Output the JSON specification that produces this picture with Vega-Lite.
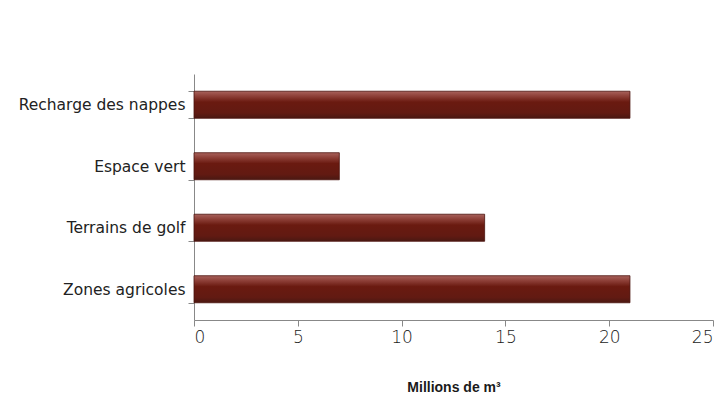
{
  "$schema": "https://vega.github.io/schema/vega-lite/v6.json",
  "autosize": {"type": "none"},
  "width": 519,
  "height": 246,
  "padding": {"left": 194, "top": 74, "right": 9, "bottom": 81},
  "background": "white",
  "config": {"view": {"stroke": null}, "font": "DejaVu Sans"},
  "data": {
    "values": [
      {"usage": "Recharge des nappes", "volume": 21},
      {"usage": "Espace vert", "volume": 7},
      {"usage": "Terrains de golf", "volume": 14},
      {"usage": "Zones agricoles", "volume": 21}
    ]
  },
  "mark": {
    "type": "bar",
    "stroke": "#4a120c",
    "strokeWidth": 0.8,
    "color": {
      "gradient": "linear",
      "x1": 0, "y1": 0, "x2": 0, "y2": 1,
      "stops": [
        {"offset": 0, "color": "#a8625c"},
        {"offset": 0.18, "color": "#8e4038"},
        {"offset": 0.4, "color": "#6a1a10"},
        {"offset": 0.8, "color": "#621a12"},
        {"offset": 1, "color": "#4a1812"}
      ]
    }
  },
  "encoding": {
    "y": {
      "field": "usage",
      "type": "nominal",
      "sort": null,
      "scale": {"paddingInner": 0.56, "paddingOuter": 0.28},
      "axis": {
        "title": null,
        "domainColor": "#888888",
        "tickColor": "#888888",
        "tickBand": "extent",
        "tickSize": 6,
        "labelFontSize": 15.5,
        "labelFontWeight": "normal",
        "labelColor": "#222222",
        "labelPadding": 3
      }
    },
    "x": {
      "field": "volume",
      "type": "quantitative",
      "scale": {"domain": [0, 25], "nice": false},
      "axis": {
        "values": [0, 5, 10, 15, 20, 25],
        "grid": false,
        "domainColor": "#888888",
        "tickColor": "#888888",
        "tickSize": 6,
        "labelFontSize": 17,
        "labelFontWeight": 300,
        "labelColor": "#1a1a1a",
        "labelPadding": 3,
        "title": "Millions de m³",
        "titleFontSize": 14,
        "titleFontWeight": "bold",
        "titleFont": "Liberation Sans",
        "titleColor": "#1a1a1a",
        "titlePadding": 35
      }
    }
  }
}
